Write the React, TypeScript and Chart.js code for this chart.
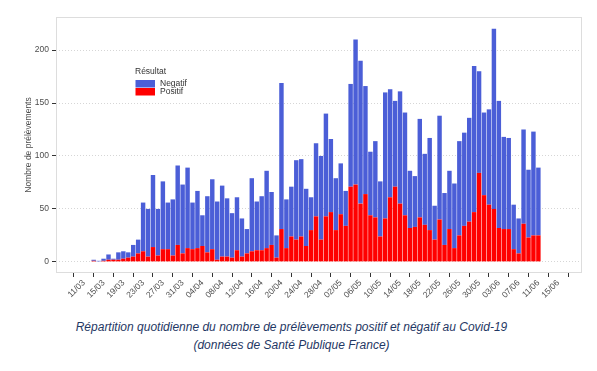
import React, { useEffect, useRef } from "react";
import { Chart, registerables } from "chart.js";

Chart.register(...registerables);

// ---- data ----
const originDate = "11/03";
const firstBarDate = "13/03";

// total daily samples (negatif + positif), from 13/03 to 11/06
const totals = [
  2, 1, 3, 7, 3, 9, 10, 9, 16, 21,
  56, 50, 82, 50, 76, 56, 59, 91, 73, 89,
  56, 67, 44, 62, 78, 57, 72, 60, 46, 61,
  41, 31, 79, 57, 62, 86, 66, 25, 169, 59,
  71, 96, 97, 69, 61, 112, 100, 140, 116, 79,
  93, 67, 168, 210, 190, 166, 104, 114, 76, 160,
  163, 152, 161, 141, 86, 81, 135, 102, 117, 53,
  138, 65, 86, 74, 114, 122, 136, 185, 180, 141,
  144, 220, 152, 118, 117, 54, 41, 125, 87, 123,
  89,
];

// positive samples per day
const positifs = [
  1, 0, 1, 2, 2, 2, 3, 4, 5, 8,
  10, 5, 14, 6, 12, 12, 6, 16, 8, 13,
  12, 13, 15, 9, 12, 2, 5, 5, 4, 11,
  5, 8, 10, 11, 11, 13, 16, 4, 31, 13,
  24, 21, 24, 15, 30, 43, 21, 43, 47, 30,
  45, 34, 71, 73, 55, 64, 44, 42, 24, 41,
  61, 71, 55, 44, 32, 33, 42, 35, 30, 21,
  40, 16, 31, 13, 25, 34, 38, 47, 84, 63,
  54, 50, 32, 31, 31, 12, 8, 36, 23, 25,
  25,
];

const tickLabels = [
  "11/03", "15/03", "19/03", "23/03", "27/03", "31/03", "04/04", "08/04",
  "12/04", "16/04", "20/04", "24/04", "28/04", "02/05", "06/05", "10/05",
  "14/05", "18/05", "22/05", "26/05", "30/05", "03/06", "07/06", "11/06",
  "15/06",
];

const yTicks = [0, 50, 100, 150, 200];

const seriesNegatif = "Negatif";
const seriesPositif = "Positif";
const legendTitle = "Résultat";
const yTitle = "Nombre de prélèvements";
const captionLines = [
  "Répartition quotidienne du nombre de prélèvements positif et négatif au Covid-19",
  "(données de Santé Publique France)",
];

// ---- helpers ----
function dayOf(s: string): number {
  const [d, m] = s.split("/").map(Number);
  const [d0, m0] = originDate.split("/").map(Number);
  return Math.round((Date.UTC(2020, m - 1, d) - Date.UTC(2020, m0 - 1, d0)) / 86400000);
}

const FONT = '"Liberation Sans", Arial, Helvetica, sans-serif';
const BLUE = "#4b5ed7";
const RED = "#ff0000";

const insetLegend = {
  id: "insetLegend",
  afterDraw(chart: any) {
    const ctx = chart.ctx;
    ctx.save();
    ctx.font = `8.5px ${FONT}`;
    ctx.textBaseline = "middle";
    ctx.textAlign = "left";
    ctx.fillStyle = "#333333";
    ctx.fillText(legendTitle, 135, 72);
    const items = [...chart.data.datasets].reverse();
    items.forEach((ds: any, i: number) => {
      const y = 80 + i * 8;
      ctx.fillStyle = ds.backgroundColor;
      ctx.fillRect(135.5, y, 19.5, 7.5);
      ctx.fillStyle = "#333333";
      ctx.fillText(ds.label, 160, y + 4);
    });
    ctx.restore();
  },
};

const panelBorder = {
  id: "panelBorder",
  afterDraw(chart: any) {
    const { ctx, chartArea } = chart;
    ctx.save();
    ctx.strokeStyle = "#dddddd";
    ctx.lineWidth = 1;
    ctx.strokeRect(
      Math.round(chartArea.left) + 0.5,
      Math.round(chartArea.top) + 0.5,
      Math.round(chartArea.right - chartArea.left) - 1,
      Math.round(chartArea.bottom - chartArea.top) - 1
    );
    ctx.restore();
  },
};

export default function App() {
  const canvasRef = useRef<HTMLCanvasElement | null>(null);

  useEffect(() => {
    if (!canvasRef.current) return;
    const start = dayOf(firstBarDate);
    const days = totals.map((_, i) => start + i);
    const negatifs = totals.map((t, i) => t - positifs[i]);
    const tickDays = tickLabels.map(dayOf);

    const chart = new Chart(canvasRef.current, {
      type: "bar",
      data: {
        datasets: [
          {
            label: seriesPositif,
            data: positifs.map((v, i) => ({ x: days[i], y: v })),
            backgroundColor: RED,
            borderWidth: 0,
            barPercentage: 0.9,
            categoryPercentage: 1.0,
          },
          {
            label: seriesNegatif,
            data: negatifs.map((v, i) => ({ x: days[i], y: v })),
            backgroundColor: BLUE,
            borderWidth: 0,
            barPercentage: 0.9,
            categoryPercentage: 1.0,
          },
        ],
      },
      options: {
        animation: false,
        responsive: false,
        devicePixelRatio: 1,
        layout: { padding: { left: 0, top: 17, right: 15, bottom: 0 } },
        plugins: {
          legend: { display: false },
          tooltip: { enabled: false },
          title: { display: false },
        },
        scales: {
          x: {
            type: "linear",
            stacked: true,
            min: -3.5,
            max: 98.7,
            afterBuildTicks: (scale: any) => {
              scale.ticks = tickDays.map((v) => ({ value: v }));
            },
            afterFit: (scale: any) => {
              scale.height = 37;
            },
            grid: {
              drawOnChartArea: false,
              drawTicks: true,
              tickLength: 4,
              tickColor: "#333333",
            },
            border: { display: false },
            ticks: {
              autoSkip: false,
              maxRotation: 45,
              minRotation: 45,
              padding: 1,
              color: "#4d4d4d",
              font: { family: FONT, size: 8.5 },
              callback: (_v: any, i: number) => tickLabels[i],
            },
          },
          y: {
            type: "linear",
            stacked: true,
            min: -10.5,
            max: 231.2,
            afterBuildTicks: (scale: any) => {
              scale.ticks = yTicks.map((v) => ({ value: v }));
            },
            afterFit: (scale: any) => {
              scale.width = 56;
            },
            grid: {
              color: "#d6d6d6",
              borderDash: [1, 2],
              tickLength: 4,
              tickColor: "#333333",
              tickBorderDash: [],
            },
            border: { display: false, dash: [1, 2] },
            ticks: {
              padding: 3,
              color: "#4d4d4d",
              font: { family: FONT, size: 8.5 },
              callback: (v: any) => String(v),
            },
            title: {
              display: true,
              text: yTitle,
              color: "#4d4d4d",
              font: { family: FONT, size: 8.5 },
              padding: { top: 24, bottom: 0 },
            },
          },
        },
      },
      plugins: [panelBorder, insetLegend],
    } as any);

    return () => chart.destroy();
  }, []);

  return (
    <div
      style={{
        position: "absolute",
        left: 0,
        top: 0,
        width: 597,
        height: 371,
        background: "#ffffff",
        overflow: "hidden",
      }}
    >
      <canvas
        ref={canvasRef}
        width={597}
        height={310}
        style={{ display: "block", width: 597, height: 310 }}
      />
      <div
        style={{
          position: "absolute",
          left: 0,
          top: 318,
          width: 583,
          textAlign: "center",
          fontFamily: FONT,
          fontStyle: "italic",
          fontSize: 12,
          lineHeight: "18px",
          color: "#1f3864",
        }}
      >
        {captionLines.map((l, i) => (
          <div key={i}>{l}</div>
        ))}
      </div>
    </div>
  );
}
